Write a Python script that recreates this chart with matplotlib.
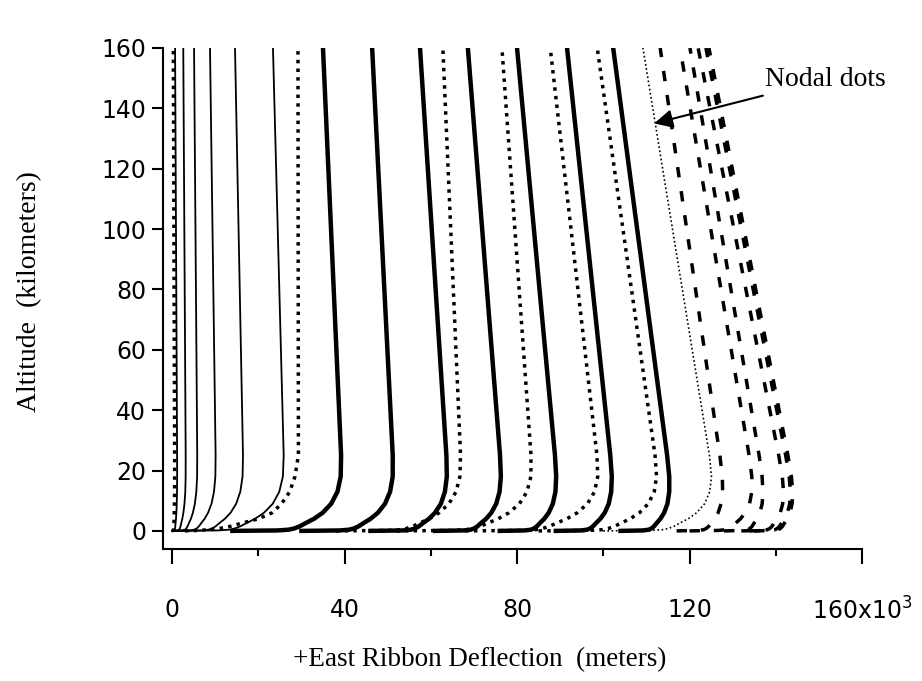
import matplotlib.pyplot as plt

# altitude grid (km) shared by every ribbon profile
alt = [0, 0.15, 0.4, 0.8, 1.5, 2.5, 4, 6, 9, 13, 18, 25, 160]

# east deflection (x10^3 m) of each ribbon at the altitudes above
axis_dots = [0, 0.3, 0.35, 0.38, 0.4, 0.43, 0.47, 0.51, 0.55, 0.58, 0.6, 0.6, 0.3]

thin_curves = [
    [0, 0.5, 0.63, 0.69, 0.75, 0.81, 0.91, 1.0, 1.09, 1.15, 1.18, 1.17, 0.7],
    [0, 1.31, 1.64, 1.8, 1.96, 2.12, 2.37, 2.63, 2.88, 3.07, 3.15, 3.16, 2.6],
    [0, 2.4, 3.0, 3.3, 3.59, 3.89, 4.36, 4.83, 5.29, 5.63, 5.81, 5.84, 5.1],
    [0, 4.15, 5.18, 5.7, 6.21, 6.72, 7.55, 8.35, 9.15, 9.73, 10.04, 10.1, 8.8],
    [0, 6.74, 8.41, 9.26, 10.09, 10.91, 12.24, 13.57, 14.87, 15.83, 16.35, 16.45, 14.6],
    [0, 10.58, 13.21, 14.52, 15.83, 17.14, 19.22, 21.31, 23.36, 24.87, 25.7, 25.89, 23.4],
]

dotted_curves = [
    [3, 6, 8.5, 11, 13.5, 16, 20, 23.2, 25.4, 27.3, 28.5, 29.3, 29.2],
    [38, 49.9, 52.87, 54.35, 55.81, 57.26, 59.6, 61.92, 64.21, 65.87, 66.75, 66.9, 62.8],
    [52, 65.03, 68.28, 69.9, 71.49, 73.07, 75.61, 78.11, 80.56, 82.32, 83.21, 83.24, 76.5],
    [68, 81.05, 84.3, 85.9, 87.48, 89.03, 91.52, 93.96, 96.34, 97.98, 98.71, 98.54, 87.7],
    [85, 96.83, 99.76, 101.2, 102.61, 103.99, 106.21, 108.38, 110.44, 111.82, 112.36, 112.01, 98.6],
]

thick_curves = [
    [14, 24.43, 27.03, 28.31, 29.59, 30.87, 32.9, 34.93, 36.91, 38.36, 39.11, 39.2, 35.0],
    [30, 38.85, 41.06, 42.15, 43.24, 44.31, 46.03, 47.72, 49.39, 50.57, 51.17, 51.18, 46.4],
    [46, 53.52, 55.39, 56.31, 57.22, 58.12, 59.56, 60.97, 62.34, 63.28, 63.72, 63.62, 57.5],
    [61, 67.59, 69.23, 70.03, 70.82, 71.58, 72.82, 74.03, 75.18, 75.95, 76.25, 76.06, 68.6],
    [76, 81.78, 83.21, 83.91, 84.59, 85.25, 86.31, 87.34, 88.3, 88.91, 89.08, 88.8, 80.0],
    [89, 94.81, 96.24, 96.94, 97.61, 98.26, 99.31, 100.33, 101.27, 101.84, 101.98, 101.63, 91.6],
    [104, 109.26, 110.54, 111.17, 111.76, 112.33, 113.24, 114.11, 114.88, 115.3, 115.3, 114.81, 102.3],
]

nodal_curve = [100, 111.01, 113.73, 115.07, 116.37, 117.63, 119.67, 121.64, 123.51, 124.69, 125.09, 124.62, 109.2]

dashed_curves = [
    [117, 122.04, 123.28, 123.88, 124.44, 124.96, 125.82, 126.63, 127.33, 127.68, 127.61, 127.04, 113.2],
    [120, 126.72, 128.37, 129.16, 129.92, 130.65, 131.81, 132.93, 133.92, 134.45, 134.45, 133.82, 117.8],
    [128, 132.43, 133.51, 134.03, 134.5, 134.93, 135.65, 136.31, 136.85, 137.03, 136.83, 136.14, 120.1],
    [132, 136.86, 138.04, 138.6, 139.11, 139.58, 140.36, 141.05, 141.61, 141.79, 141.52, 140.69, 122.0],
    [134, 138.69, 139.83, 140.36, 140.85, 141.31, 142.04, 142.71, 143.24, 143.4, 143.12, 142.3, 123.8],
    [135, 139.48, 140.57, 141.08, 141.55, 141.97, 142.67, 143.29, 143.79, 143.92, 143.63, 142.82, 124.5],
]

xticks = [0, 40, 80, 120, 160]
xtick_labels = ['0', '40', '80', '120', '160x10$^{3}$']
yticks = list(range(0, 161, 20))

fig = plt.figure(figsize=(9.22, 6.81), dpi=100)
ax = fig.add_axes([163 / 922, 132 / 681, 699 / 922, 501 / 681])

ax.plot(axis_dots, alt, color='k', lw=2.5, ls=(0, (1, 1.5)))
for xs in thin_curves:
    ax.plot(xs, alt, color='k', lw=1.3)
for xs in dotted_curves:
    ax.plot(xs, alt, color='k', lw=2.5, ls=(0, (1, 1.5)))
for xs in thick_curves:
    ax.plot(xs, alt, color='k', lw=3.2, solid_joinstyle='round')
ax.plot(nodal_curve, alt, color='k', lw=1.2, ls=(0, (1, 1.5)))
for xs in dashed_curves:
    ax.plot(xs, alt, color='k', lw=2.5, ls=(0, (3, 4)))

ax.set_xlim(-2.1, 160)
ax.set_ylim(-6, 160)
for s in ['top', 'right']:
    ax.spines[s].set_visible(False)
for s in ['left', 'bottom']:
    ax.spines[s].set_linewidth(1.5)

ax.set_xticks(xticks)
ax.set_xticklabels(xtick_labels)
ax.set_xticks([20, 60, 100, 140], minor=True)
ax.set_yticks(yticks)
ax.tick_params(axis='x', which='major', length=11, width=1.5, pad=24, labelsize=17)
ax.tick_params(axis='x', which='minor', length=5, width=1.5)
ax.tick_params(axis='y', length=8, width=1.5, pad=4, labelsize=17)

fig.text(480 / 922, 1 - 660 / 681, '+East Ribbon Deflection  (meters)',
         family='Liberation Serif', fontsize=19.5, ha='center', va='center')
fig.text(30 / 922, 1 - 292 / 681, 'Altitude  (kilometers)',
         family='Liberation Serif', fontsize=20, ha='center', va='center', rotation=90)

ax.annotate('Nodal dots', xy=(111.8, 135), xytext=(137.5, 149.5),
            family='Liberation Serif', fontsize=20, va='center', ha='left',
            arrowprops=dict(arrowstyle='-|>', color='k', lw=1.5, mutation_scale=28,
                            shrinkA=2, shrinkB=0))

fig.savefig('out.png', dpi=100)
